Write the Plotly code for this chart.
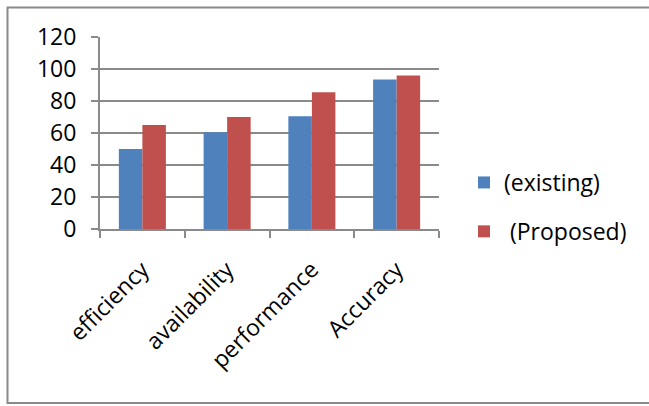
import plotly.graph_objects as go

# Chart data
categories = ["efficiency", "availability", "performance", "Accuracy"]
existing = [50, 60.5, 70.5, 93.5]
proposed = [65, 70, 85.5, 96]
series_names = ["(existing)", "\u00a0(Proposed)"]
y_ticks = [0, 20, 40, 60, 80, 100, 120]

W, H = 649, 406
ML, MR, MT, MB = 100, 210, 37, 177
plot_w = W - ML - MR
plot_h = H - MT - MB

FONT = dict(family="Open Sans", size=23, color="#000000")
GRID = "#8a8a8a"

fig = go.Figure()
fig.add_trace(go.Bar(x=categories, y=existing, name=series_names[0],
                     marker=dict(color="#4F81BD", line=dict(width=0)),
                     legendgroup="a"))
fig.add_trace(go.Bar(x=categories, y=proposed, name=series_names[1],
                     marker=dict(color="#C0504D", line=dict(width=0)),
                     legendgroup="b"))


def px_to_paper_x(px):
    return (px - ML) / plot_w


def py_to_paper_y(py):
    return (H - MB - py) / plot_h


# Outer chart frame (right edge runs past the page)
fig.add_shape(type="rect", xref="paper", yref="paper",
              x0=px_to_paper_x(7.5), x1=px_to_paper_x(670),
              y0=py_to_paper_y(403), y1=py_to_paper_y(7.5),
              line=dict(color="#8a8a8a", width=2), layer="below")

fig.update_layout(
    width=W, height=H,
    margin=dict(l=ML, r=MR, t=MT, b=MB, pad=0),
    paper_bgcolor="white", plot_bgcolor="white",
    font=FONT,
    barmode="group", bargap=0.445, bargroupgap=0,
    showlegend=True,
    legend=dict(x=px_to_paper_x(464), y=py_to_paper_y(161), xanchor="left", yanchor="top",
                traceorder="grouped", tracegroupgap=16,
                font=FONT, bgcolor="rgba(0,0,0,0)"),
    xaxis=dict(tickangle=-45, showgrid=False, showline=True, linecolor=GRID, linewidth=2,
               ticks="outside", tickson="boundaries", ticklen=7, tickcolor=GRID, tickwidth=2,
               ticklabelstandoff=16, tickfont=FONT),
    yaxis=dict(range=[0, 120], tickvals=y_ticks, showgrid=True, gridcolor=GRID, gridwidth=2,
               showline=True, linecolor=GRID, linewidth=2, zeroline=False,
               ticks="outside", ticklen=7, tickcolor=GRID, tickwidth=2,
               ticklabelstandoff=10, tickfont=FONT),
)

fig.write_html("out.html")
